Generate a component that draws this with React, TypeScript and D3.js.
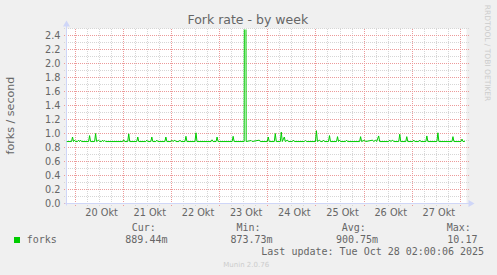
import React from "react";
import * as d3 from "d3";

// ---- data ----
const startTime = Date.UTC(2025, 9, 19, 19, 45); // left edge of the plot
const endTime = Date.UTC(2025, 9, 28, 3, 0); // right edge of the plot
const yTicks = [0, 0.2, 0.4, 0.6, 0.8, 1.0, 1.2, 1.4, 1.6, 1.8, 2.0, 2.2, 2.4];
const dayLabels = ["20 Okt", "21 Okt", "22 Okt", "23 Okt", "24 Okt", "25 Okt", "26 Okt", "27 Okt"];
const dayLabelDays = [20, 21, 22, 23, 24, 25, 26, 27];
// [hours since startTime, forks per second]
const samples: [number, number][] = [
  [0, 0.885], [2.5, 0.885], [3, 0.95], [3.5, 0.885], [4, 0.905], [4.5, 0.885],
  [5.5, 0.885], [6, 0.905], [6.5, 0.885], [7, 0.905], [7.5, 0.885],
  [11, 0.885], [11.5, 0.97], [12, 0.885], [14, 0.885], [14.5, 1.0], [15, 0.885],
  [16, 0.905], [16.5, 0.885], [17.5, 0.885], [18, 0.905], [18.5, 0.885], [19, 0.9], [19.5, 0.885],
  [28, 0.885], [28.5, 0.91], [29, 0.885], [30.5, 0.885], [31, 0.995], [31.5, 0.885],
  [35, 0.885], [35.5, 0.95], [36, 0.885], [39.5, 0.885], [40, 0.905], [40.5, 0.885],
  [42, 0.885], [42.5, 0.95], [43, 0.885], [44.5, 0.885], [45, 0.905], [45.5, 0.885],
  [49, 0.885], [49.5, 0.95], [50, 0.885], [52, 0.885], [52.5, 0.905], [53, 0.885],
  [54, 0.905], [54.5, 0.885], [56, 0.885], [56.5, 0.905], [57, 0.885],
  [59, 0.885], [59.5, 0.96], [60, 0.885], [64, 0.885], [64.5, 1.01], [65, 0.885],
  [72, 0.885], [72.5, 0.91], [73, 0.885], [74.5, 0.885], [75, 0.95], [75.5, 0.885],
  [82.5, 0.885], [83, 0.96], [83.5, 0.885], [88.5, 0.885], [89, 10.17], [89.5, 0.885],
  [92, 0.9], [92.5, 0.885], [96, 0.905], [96.5, 0.885],
  [100, 0.885], [100.5, 0.95], [101, 0.885], [103.5, 0.885], [104, 1.0], [104.5, 0.885],
  [106.5, 0.885], [107, 1.02], [107.5, 0.885], [108.5, 0.95], [109, 0.885], [110, 0.905], [110.5, 0.885],
  [112.5, 0.885], [113, 0.905], [113.5, 0.885], [118.5, 0.885], [119, 0.9], [119.5, 0.885],
  [124, 0.885], [124.5, 1.04], [125, 0.885], [126, 0.905], [126.5, 0.885],
  [127.5, 0.885], [128, 0.905], [128.5, 0.885], [130.5, 0.885], [131, 0.97], [131.5, 0.885],
  [134.5, 0.885], [135, 0.955], [135.5, 0.885], [136, 0.905], [136.5, 0.885],
  [139, 0.885], [139.5, 0.905], [140, 0.885], [146, 0.885], [146.5, 0.955], [147, 0.885],
  [148.5, 0.905], [149, 0.885], [152.5, 0.905], [153, 0.885], [154, 0.905], [154.5, 0.885],
  [155.5, 0.965], [156, 0.885], [160.5, 0.885], [161, 0.905], [161.5, 0.885], [162.5, 0.905], [163, 0.885],
  [165.5, 0.885], [166, 0.99], [166.5, 0.885], [169, 0.885], [169.5, 0.955], [170, 0.885],
  [172.5, 0.885], [173, 0.905], [173.5, 0.885], [175.5, 0.885], [176, 0.905], [176.5, 0.885],
  [179, 0.885], [179.5, 0.965], [180, 0.885], [184.5, 0.885], [185, 1.01], [185.5, 0.885],
  [192, 0.885], [192.5, 0.955], [193, 0.885], [196.5, 0.885], [197, 0.92], [197.5, 0.885],
  [198.5, 0.889],
];
const legendName = "forks";
const statHeaders = ["Cur:", "Min:", "Avg:", "Max:"];
const statValues = ["889.44m", "873.73m", "900.75m", " 10.17"];
const titleText = "Fork rate - by week";
const unitText = "forks / second";
const lastUpdate = "Last update: Tue Oct 28 02:00:06 2025";
const versionText = "Munin 2.0.76";
const watermark = "RRDTOOL / TOBI OETIKER";

const W = 497, H = 275;
const X0 = 66.5, X1 = 466.5, YB = 203.5, YT = 28.5;
const FONT = "'DejaVu Sans', sans-serif";
const MONO = "'DejaVu Sans Mono', monospace";
const HOUR = 3600000;

export default function App() {
  const x = d3.scaleUtc().domain([new Date(startTime), new Date(endTime)]).range([X0, X1]);
  const y = d3.scaleLinear().domain([0, 2.5]).range([YB, YT]);

  const minorX = d3.utcHour
    .every(6)!
    .range(new Date(startTime), new Date(endTime))
    .filter((t) => t.getUTCHours() !== 0);
  const majorX = d3.utcDay.range(new Date(startTime), new Date(endTime));
  const minorY = d3.range(1, 26, 2).map((i) => i / 10);

  const line = d3
    .line<[number, number]>()
    .x((d) => x(new Date(startTime + d[0] * HOUR)))
    .y((d) => y(d[1]));

  const crisp = (v: number) => Math.round(v - 0.5) + 0.5;
  const MINOR = "#d6d6d6";
  const MAJOR = "#ec9a9a";

  return (
    <svg width={W} height={H} style={{ position: "absolute", left: 0, top: 0, background: "#F0F0F0" }}>
      <rect x={0} y={0} width={W} height={H} fill="#F0F0F0" />
      <rect x={X0} y={YT} width={X1 - X0} height={YB - YT} fill="#FFFFFF" />
      <defs>
        <clipPath id="plotclip">
          <rect x={X0} y={YT + 1} width={X1 - X0} height={YB - YT} />
        </clipPath>
      </defs>
      {/* minor grid */}
      {minorY.map((v, i) => (
        <line key={"my" + i} x1={64} x2={469} y1={crisp(y(v))} y2={crisp(y(v))}
          stroke={MINOR} strokeDasharray="1,1" shapeRendering="crispEdges" />
      ))}
      {minorX.map((t, i) => (
        <line key={"mx" + i} x1={crisp(x(t))} x2={crisp(x(t))} y1={206} y2={28}
          stroke={MINOR} strokeDasharray="1,1" shapeRendering="crispEdges" />
      ))}
      {/* major grid */}
      {yTicks.map((v, i) => (
        <line key={"My" + i} x1={64} x2={469} y1={crisp(y(v))} y2={crisp(y(v))}
          stroke={MAJOR} strokeDasharray="1,1" shapeRendering="crispEdges" />
      ))}
      {majorX.map((t, i) => (
        <line key={"Mx" + i} x1={crisp(x(t))} x2={crisp(x(t))} y1={206} y2={28}
          stroke={MAJOR} strokeDasharray="1,1" shapeRendering="crispEdges" />
      ))}
      {/* axes */}
      <line x1={X0 - 2} x2={X1 + 4} y1={YB} y2={YB} stroke="#CFD6F8" />
      <line x1={X0} x2={X0} y1={YB + 2} y2={YT - 4} stroke="#CFD6F8" />
      <path d={`M${X1 + 2},${YB - 3.5} L${X1 + 8},${YB} L${X1 + 2},${YB + 3.5} Z`} fill="#CFD6F8" />
      <path d={`M${X0 - 3.5},${YT - 2} L${X0},${YT - 8} L${X0 + 3.5},${YT - 2} Z`} fill="#CFD6F8" />
      {/* data line */}
      <path d={line(samples) || ""} fill="none" stroke="#00CC00" strokeWidth={1} clipPath="url(#plotclip)" />
      {/* y tick labels */}
      {yTicks.map((v, i) => (
        <text key={"yl" + i} x={60.5} y={y(v) + 3.5} textAnchor="end" fontFamily={FONT} fontSize={9.72} fill="#666666">
          {v.toFixed(1)}
        </text>
      ))}
      {/* x tick labels */}
      {dayLabels.map((lab, i) => (
        <text key={"xl" + i} x={x(new Date(Date.UTC(2025, 9, dayLabelDays[i], 12))) + 2.5} y={216}
          textAnchor="middle" fontFamily={FONT} fontSize={9.72} fill="#666666">
          {lab}
        </text>
      ))}
      {/* title */}
      <text x={247.8} y={24} textAnchor="middle" fontFamily={FONT} fontSize={12.5} fill="#666666">
        {titleText}
      </text>
      {/* unit */}
      <text transform="translate(13.5,115.5) rotate(-90)" textAnchor="middle" fontFamily={FONT} fontSize={11.1} fill="#666666">
        {unitText}
      </text>
      {/* watermark */}
      <text transform="translate(485,53) rotate(90)" textAnchor="middle" fontFamily={FONT} fontSize={7.5} fill="#cccccc">
        {watermark}
      </text>
      {/* legend */}
      <rect x={14} y={237} width={6} height={6} fill="#00CC00" />
      <text x={26.7} y={242.7} fontFamily={MONO} fontSize={10} fill="#666666">{legendName}</text>
      {statHeaders.map((h, i) => (
        <text key={"sh" + i} x={[131.7, 236.5, 341.7, 446.7][i]} y={230.7} fontFamily={MONO} fontSize={10} fill="#666666" style={{ whiteSpace: "pre" }}>
          {h}
        </text>
      ))}
      {statValues.map((v, i) => (
        <text key={"sv" + i} x={[125.3, 230.5, 336, 441.3][i]} y={242.7} fontFamily={MONO} fontSize={10} fill="#666666" style={{ whiteSpace: "pre" }}>
          {v}
        </text>
      ))}
      <text x={261.3} y={255} fontFamily={MONO} fontSize={10} fill="#666666">{lastUpdate}</text>
      <text x={223.3} y={266.7} fontFamily={FONT} fontSize={7} fill="#cccccc">{versionText}</text>
    </svg>
  );
}
